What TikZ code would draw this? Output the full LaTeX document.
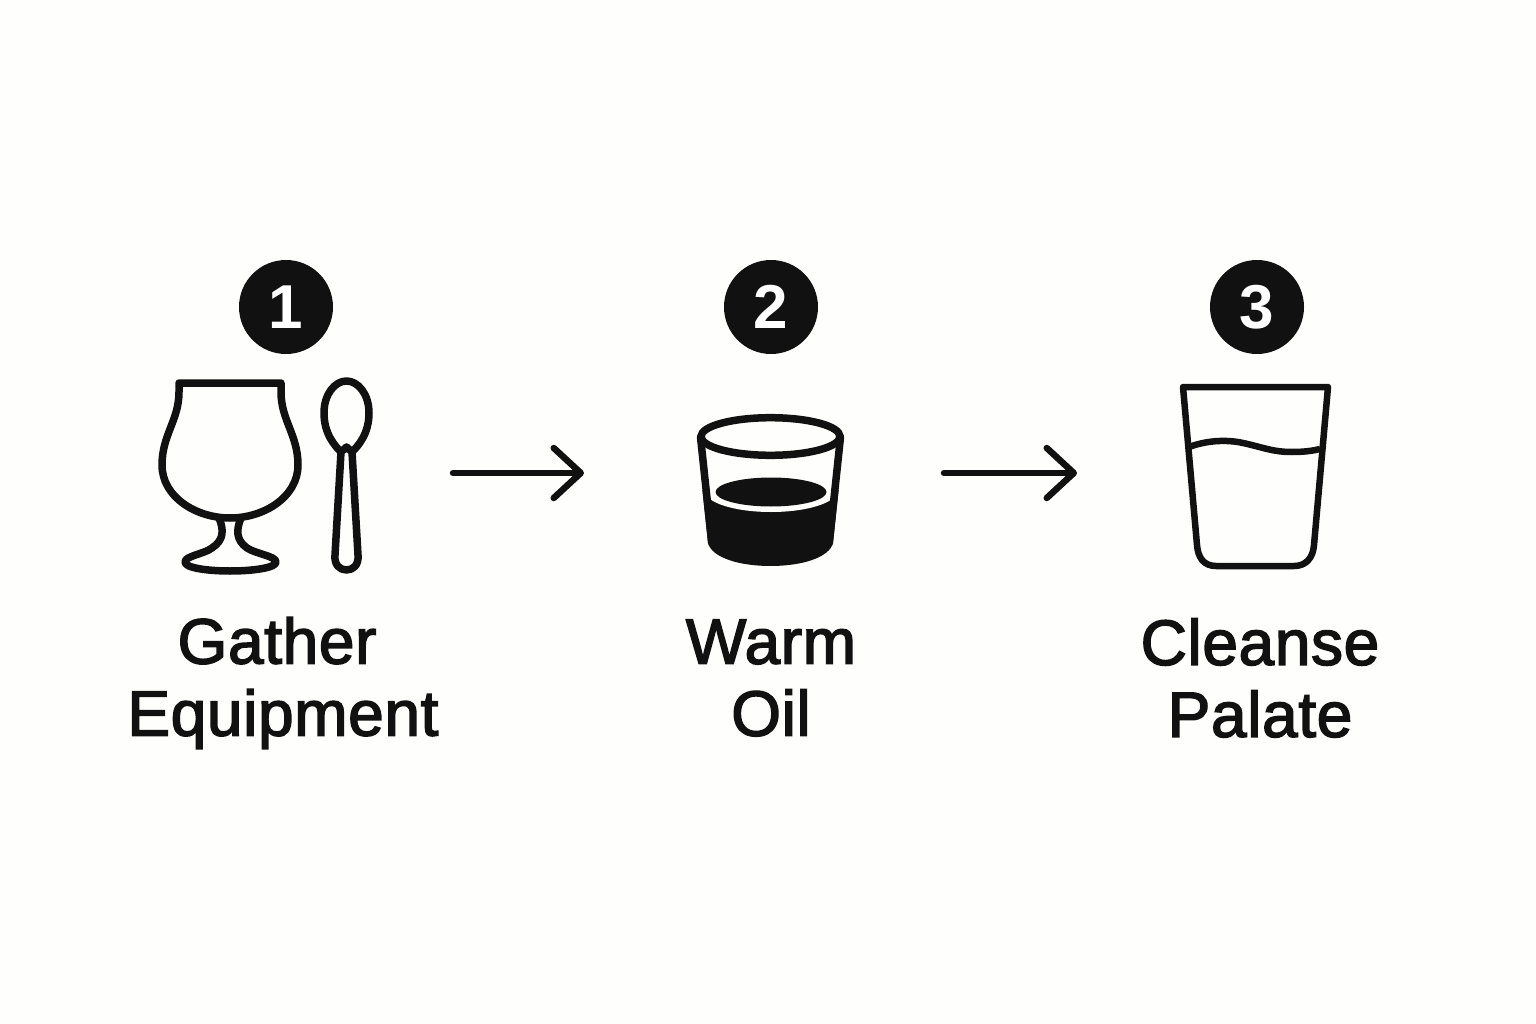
\documentclass[tikz,border=0pt]{standalone}
\usepackage{fontspec}
\setmainfont{Liberation Sans}
\newfontfamily\labelfont[RawFeature={embolden=2.4},LetterSpace=1]{Liberation Sans}
\usetikzlibrary{arrows.meta}
\definecolor{ink}{HTML}{111111}
\definecolor{paper}{HTML}{FEFEFC}
\begin{document}
\begin{tikzpicture}
[x=1pt,y=-1pt,
 every node/.style={text=ink},
 badge/.style={circle,fill=ink,text=white,minimum size=94pt,inner sep=0pt,
   font=\fontsize{62}{62}\selectfont\bfseries},
 steplabel/.style={align=center,inner sep=0pt,
   font=\fontsize{64}{72}\selectfont\labelfont},
 icon/.style={draw=ink,line width=7.5pt,line join=round,line cap=round},
 flow/.style={draw=ink,line width=6.5pt,line cap=round,
   -{Straight Barb[length=27pt,width=50pt,line width=6.5pt,round]}}]
\useasboundingbox (0,0) rectangle (1536,1024);
\fill[paper] (0,0) rectangle (1536,1024);

% badges
\node [badge] (badge1) at (286,307) {1};
\node [badge] (badge2) at (771,307) {2};
\node [badge] (badge3) at (1257,307) {3};

% tulip glass and spoon
\draw [icon] (179,383) -- (281,383) -- (281,392)
  .. controls (281,420) and (298,435) .. (298,465)
  .. controls (298,497) and (264,518) .. (230,518)
  .. controls (196,518) and (162,497) .. (162,465)
  .. controls (162,435) and (179,420) .. (179,392) -- cycle;
\draw [icon] (219,518) .. controls (224,530) and (224,540) .. (212,548)
  .. controls (204,554) and (185,556) .. (185,562)
  .. controls (185,568) and (208,571) .. (230,571)
  .. controls (252,571) and (276,568) .. (276,562)
  .. controls (276,556) and (256,554) .. (247,548)
  .. controls (236,540) and (236,530) .. (241,518);
\draw [icon] (341,452) .. controls (335,446) and (324,434) .. (324,413)
  .. controls (324,394) and (335,381) .. (346.5,381)
  .. controls (358,381) and (369,394) .. (369,413)
  .. controls (369,434) and (358,446) .. (352,452)
  -- (358,555) .. controls (359,565) and (353,570) .. (346.5,570)
  .. controls (340,570) and (334,565) .. (335,555) -- (341,452)
  -- (346.5,447) -- (352,452);

% glass of oil
\fill [ink] (702.4,490) -- (708,543) .. controls (712,558) and (740,566) .. (770.5,566)
  .. controls (801,566) and (829,558) .. (833,543) -- (838.6,490) -- cycle;
\fill [paper] (771,491) ellipse [x radius=66,y radius=21];
\fill [ink] (771,492) ellipse [x radius=55.5,y radius=14.5];
\draw [icon] (700.5,437) -- (711.75,543) (840.5,437) -- (829.25,543);
\draw [icon] (770.5,436.5) ellipse [x radius=69.5,y radius=18.8];

% glass of water
\draw [icon,line width=6.5pt] (1183,387) -- (1328,387)
  -- (1314,545) .. controls (1313,558) and (1306,566) .. (1294,566)
  -- (1216,566) .. controls (1204,566) and (1198,558) .. (1197,545) -- cycle;
\draw [icon,line width=6.5pt,line cap=butt] (1189,447)
  .. controls (1205,441) and (1225,439) .. (1243,443)
  .. controls (1262,447) and (1272,452) .. (1292,452)
  .. controls (1303,452) and (1312,451) .. (1320,449);

% arrows
\coordinate (flow1a) at (453,473);
\coordinate (flow1b) at (584,473);
\coordinate (flow2a) at (944,473);
\coordinate (flow2b) at (1077,473);
\draw [flow] (flow1a) -- (flow1b);
\draw [flow] (flow2a) -- (flow2b);

% labels
\node [steplabel] (label1) at (283,683) {Gather\hspace*{12pt}\\Equipment};
\node [steplabel] (label2) at (771,678) {Warm\\Oil};
\node [steplabel] (label3) at (1260,678) {Cleanse\\Palate};
\end{tikzpicture}
\end{document}
